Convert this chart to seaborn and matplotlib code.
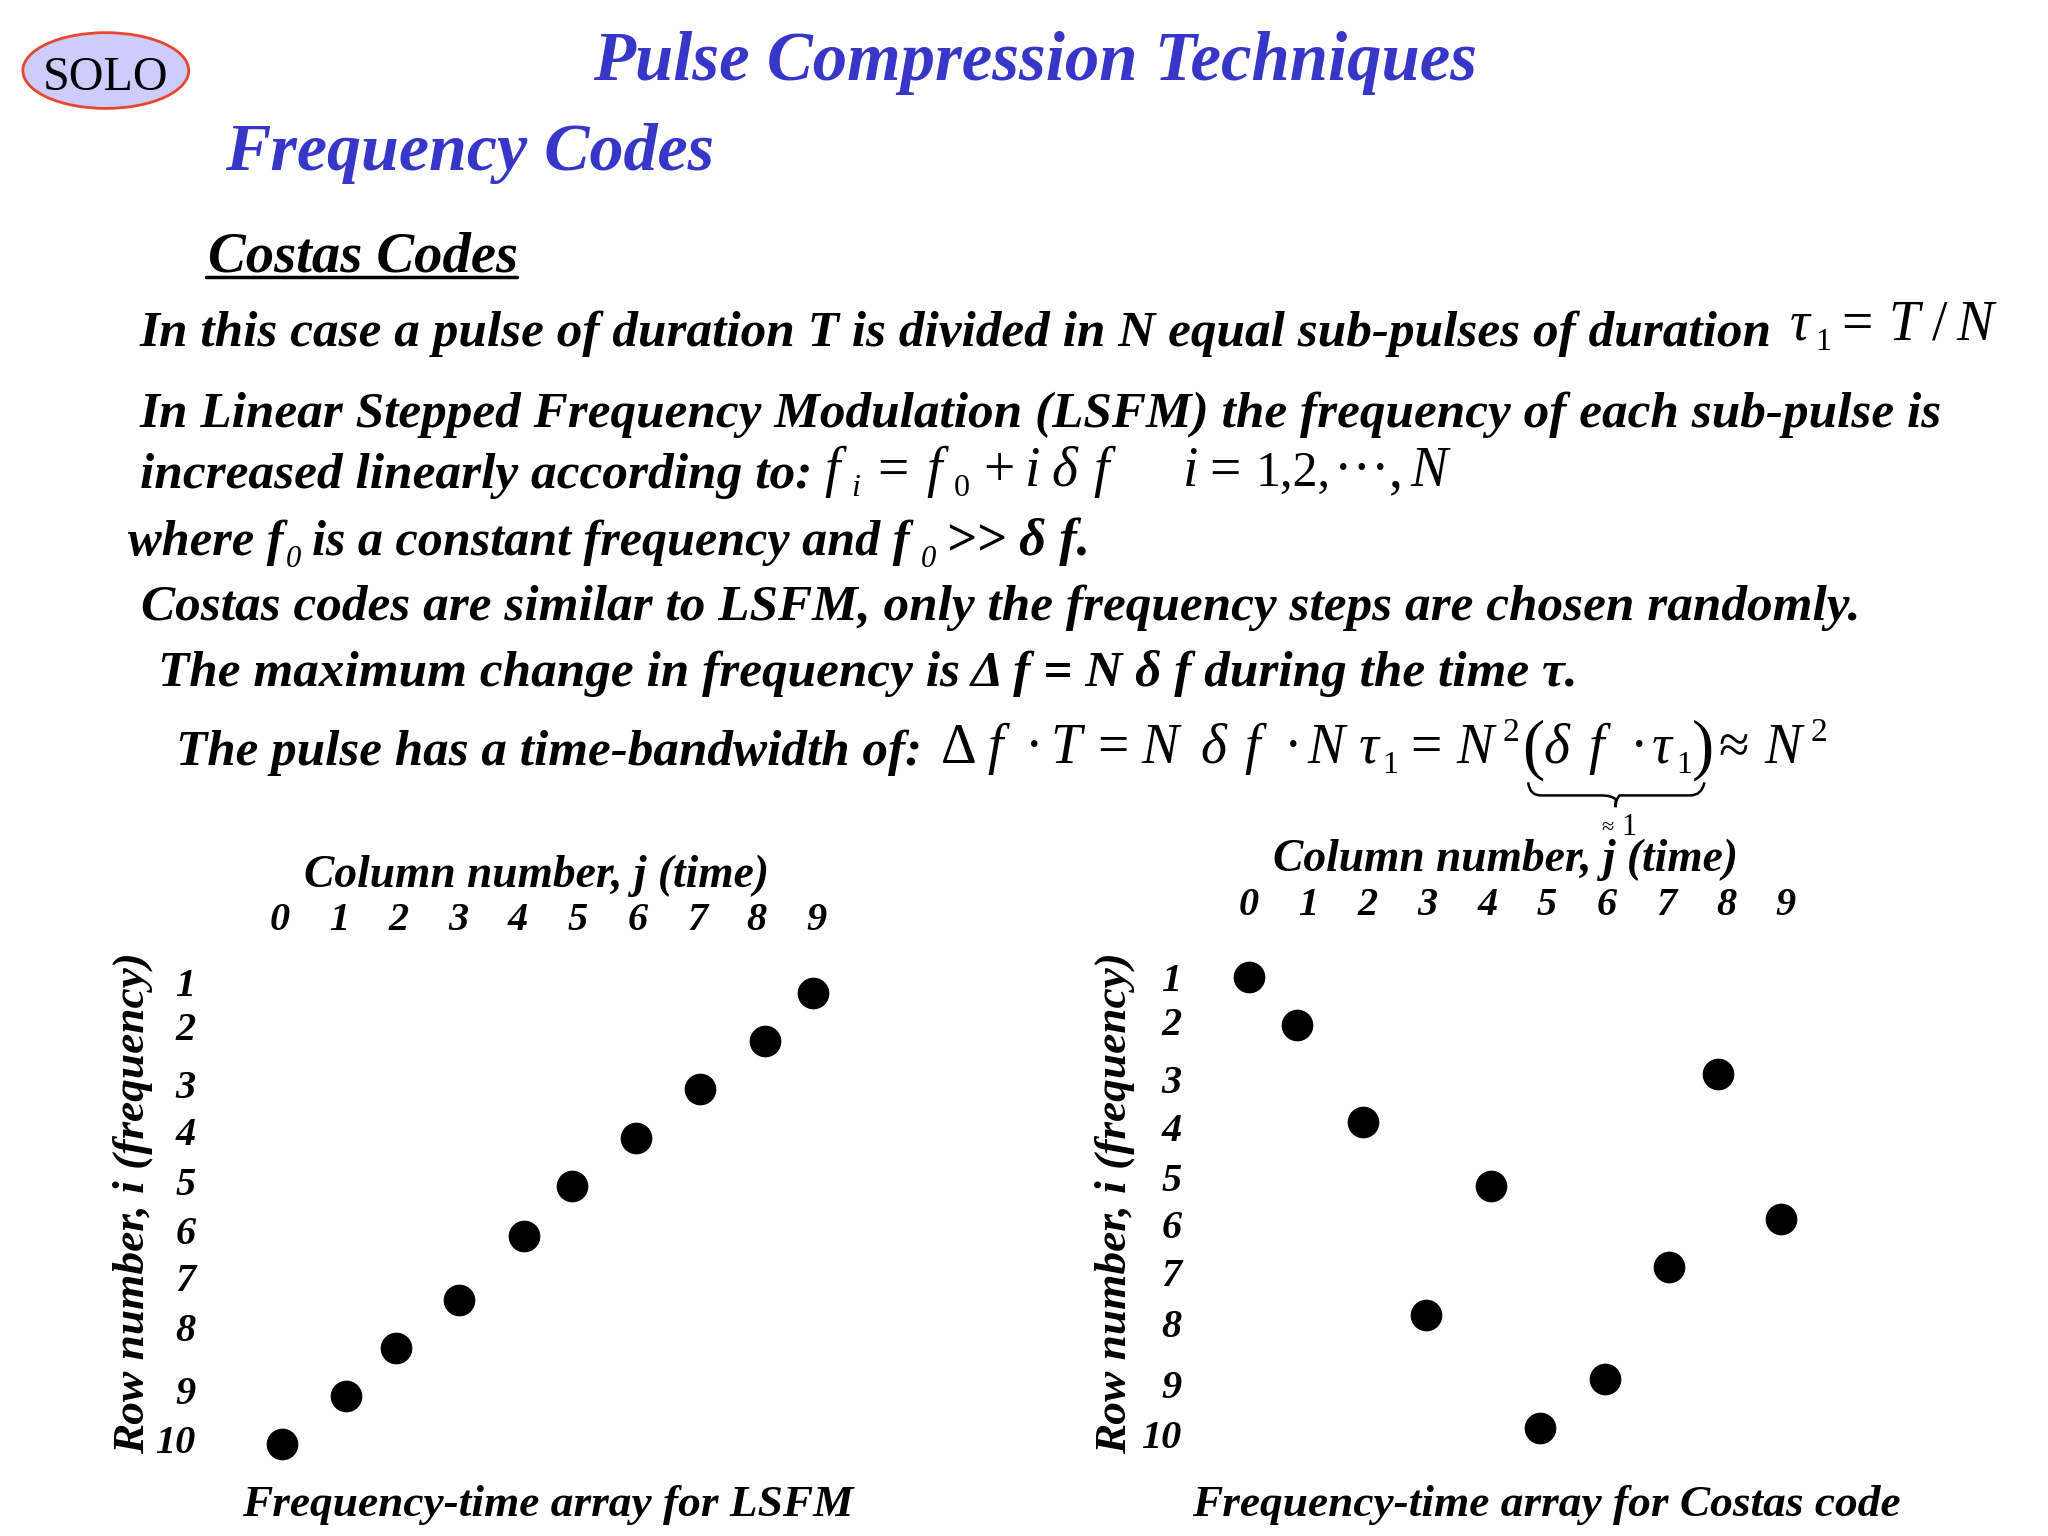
import matplotlib
matplotlib.use("Agg")
import matplotlib.pyplot as plt
from matplotlib.patches import Ellipse, PathPatch
from matplotlib.path import Path
import seaborn as sns

sns.set_theme(style="white")
SERIF = ["Liberation Serif", "DejaVu Serif"]
plt.rcParams["font.family"] = SERIF

# ---- data -----------------------------------------------------------------
col_labels = ["0", "1", "2", "3", "4", "5", "6", "7", "8", "9"]
row_labels = ["1", "2", "3", "4", "5", "6", "7", "8", "9", "10"]
col_ticks = [0, 1, 2, 3, 4, 5, 6, 7, 8, 9]
lsfm_row_ticks = [1, 1.87, 3.0, 3.93, 4.91, 5.88, 6.81, 7.79, 9.02, 10]
costas_row_ticks = [1, 1.87, 3.01, 3.96, 4.93, 5.86, 6.81, 7.81, 9.02, 10]

lsfm_col = [0.04, 1.12, 1.95, 3.0, 4.09, 4.90, 5.97, 7.05, 8.14, 8.95]
lsfm_row = [10.1, 9.15, 8.2, 7.25, 5.99, 5.01, 4.06, 3.11, 2.16, 1.21]
costas_col = [0.0, 0.81, 1.91, 2.98, 4.07, 4.88, 5.98, 7.05, 7.86, 8.93]
costas_row = [1.0, 1.95, 3.85, 7.66, 5.11, 9.87, 8.92, 6.71, 2.90, 5.76]

# ---- canvas: overlay uses a 1568 x 1176 layout grid ---------------------------
W, H = 1568.0, 1176.0
fig = plt.figure(figsize=(20.48, 15.36), dpi=100, facecolor="white")
page = fig.add_axes([0, 0, 1, 1], zorder=0)
page.set_xlim(0, W)
page.set_ylim(H, 0)
page.axis("off")
renderer = fig.canvas.get_renderer()
BLUE = "#3636C8"


def fit(t, target, vertical=False):
    """Scale a text's font so that it spans `target` layout units."""
    t.set_fontsize(40)
    bb = t.get_window_extent(renderer)
    span = bb.height if vertical else bb.width
    t.set_fontsize(40 * target / span * 2048 / W)
    return t


def line(x0, x1, base, s, color="black", weight="bold", style="italic"):
    t = page.text(x0, base, s, ha="left", va="baseline", color=color,
                  fontweight=weight, fontstyle=style, family=SERIF)
    return fit(t, x1 - x0)


def glyphs(base, items, size=40):
    """Thin formula pieces: (x, text, style[, baseline offset, size])."""
    for it in items:
        x, s, style = it[:3]
        dy = it[3] if len(it) > 3 else 0
        sz = it[4] if len(it) > 4 else size
        page.text(x, base + dy, s, ha="left", va="baseline", color="black",
                  fontstyle=style, fontsize=sz, family=SERIF)


I, R = "italic", "normal"
SUB, SUP = 23, 24

# ---- heading and logo ---------------------------------------------------------
page.add_patch(Ellipse((81, 54), 127, 58, facecolor="#CCCCFF",
                       edgecolor="#E8452C", linewidth=2))
line(33, 129, 69, "SOLO", weight="normal", style="normal")
line(454, 1130, 61, "Pulse Compression Techniques", color=BLUE)
line(172, 546, 130, "Frequency Codes", color=BLUE)
line(159, 396, 208, "Costas Codes")
page.plot([158, 396], [212, 212], color="black", lw=2.5)

# ---- body text ------------------------------------------------------------------
line(107, 1353, 265, "In this case a pulse of duration T is divided in N equal "
                     "sub-pulses of duration")
glyphs(260, [(1370, "\u03c4", I), (1390, "1", R, 8, SUB), (1410, "=", R),
             (1446, "T", I), (1479, "/", R), (1498, "N", I)])
line(107, 1485, 327, "In Linear Stepped Frequency Modulation (LSFM) the frequency "
                     "of each sub-pulse is")
line(107, 621, 374, "increased linearly according to:")
glyphs(372, [(631, "f", I), (652, "i", I, 8, SUB), (672, "=", R), (709, "f", I),
             (730, "0", R, 8, SUB), (753, "+", R), (785, "i", I), (805, "\u03b4", I),
             (837, "f", I), (906, "i", I), (926, "=", R), (961, "1,2,", R, 0, 36),
             (1021, "\u00b7\u00b7\u00b7", R), (1063, ",", R), (1080, "N", I)])
line(98, 217, 425, "where f")
glyphs(434, [(219, "0", I, 0, 22), (705, "0", I, 0, 22)])
line(239, 696, 425, "is a constant frequency and f")
line(724, 834, 425, ">> \u03b4 f.")
line(108, 1421, 475, "Costas codes are similar to LSFM, only the frequency steps "
                     "are chosen randomly.")
line(121, 1207, 525, "The maximum change in frequency is \u0394 f = N \u03b4 f "
                     "during the time \u03c4.")
line(135, 705, 586, "The pulse has a time-bandwidth of:")
glyphs(584, [(720, "\u0394", R), (756, "f", I), (785, "\u00b7", R), (804, "T", I),
             (840, "=", R), (874, "N", I), (919, "\u03b4", I), (953, "f", I),
             (983, "\u00b7", R), (1001, "N", I), (1040, "\u03c4", I),
             (1058, "1", R, 8, SUB), (1080, "=", R), (1115, "N", I),
             (1150, "2", R, -17, SUP), (1165, "(", R, 3, 48), (1182, "\u03b4", I),
             (1216, "f", I), (1248, "\u00b7", R), (1265, "\u03c4", I),
             (1283, "1", R, 8, SUB), (1295, ")", R, 3, 48), (1316, "\u2248", R),
             (1351, "N", I), (1386, "2", R, -17, SUP)])

# underbrace and its note
brace = Path([(1170, 599), (1171, 609), (1180, 609), (1226, 609), (1234, 609),
              (1237, 612), (1237, 618), (1237, 612), (1240, 609), (1248, 609),
              (1294, 609), (1303, 609), (1305, 599)],
             [Path.MOVETO, Path.CURVE3, Path.CURVE3, Path.LINETO, Path.CURVE3,
              Path.CURVE3, Path.LINETO, Path.CURVE3, Path.CURVE3, Path.LINETO,
              Path.LINETO, Path.CURVE3, Path.CURVE3])
page.add_patch(PathPatch(brace, facecolor="none", edgecolor="black", lw=1.8))
glyphs(639, [(1226, "\u2248", R, -1, 16), (1241, "1", R, 0, 22)])

# ---- captions -------------------------------------------------------------------
line(185, 652, 1161, "Frequency-time array for LSFM")
line(913, 1455, 1161, "Frequency-time array for Costas code")


# ---- the two arrays --------------------------------------------------------------
def panel(left, top, xs, ys, rows, xpad, ypad, xlab_x, xlab_base, ylab_base):
    width, height = 456.7, 388.9
    ax = fig.add_axes([left / W, 1 - (top + height) / H, width / W, height / H],
                      zorder=2)
    ax.patch.set_alpha(0)
    sns.scatterplot(x=xs, y=ys, ax=ax, color="black", s=520, linewidth=0,
                    legend=False, clip_on=False)
    ax.set_xlim(-0.5, 9.5)
    ax.set_ylim(10.5, 0.5)
    ax.xaxis.tick_top()
    ax.set_xticks(col_ticks, col_labels)
    ax.set_yticks(rows, row_labels)
    ax.tick_params(axis="x", length=0, pad=xpad)
    ax.tick_params(axis="y", length=0, pad=ypad)
    for lab in ax.get_xticklabels() + ax.get_yticklabels():
        lab.set_fontsize(29)
        lab.set_fontweight("bold")
        lab.set_fontstyle("italic")
        lab.set_color("black")
    sns.despine(ax=ax, left=True, bottom=True, top=True, right=True)

    ax.xaxis.set_label_position("top")
    ax.set_xlabel("Column number, j (time)", fontweight="bold", fontstyle="italic",
                  color="black", va="baseline")
    ax.xaxis.set_label_coords((xlab_x - left) / width,
                              (top + height - xlab_base) / height)
    fit(ax.xaxis.label, 356)

    ax.set_ylabel("Row number, i (frequency)", fontweight="bold", fontstyle="italic",
                  color="black", va="baseline")
    ax.yaxis.set_label_coords((ylab_base - left) / width,
                              (top + height - 921) / height)
    fit(ax.yaxis.label, 384, vertical=True)
    return ax


panel(191.2, 732.6, lsfm_col, lsfm_row, lsfm_row_ticks, 13, 39, 411, 679, 110)
panel(933.2, 728.6, costas_col, costas_row, costas_row_ticks, 20, 27, 1152.5, 667, 862)

fig.savefig("out.png", dpi=100, facecolor="white")
